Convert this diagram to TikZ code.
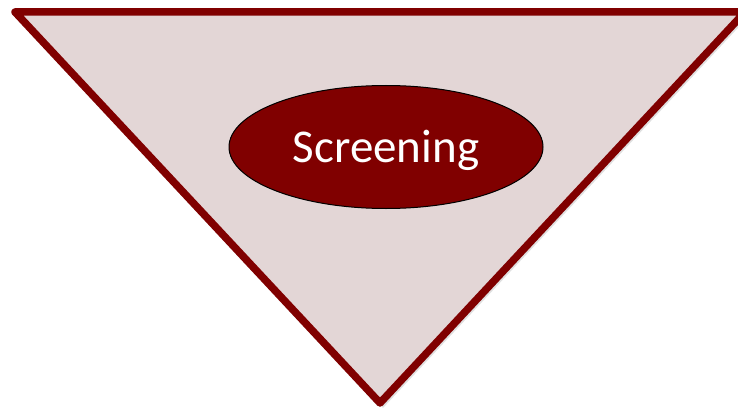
\documentclass[tikz,border=0pt]{standalone}
\usepackage{fontspec}
\setmainfont{Carlito}
\usetikzlibrary{shapes.geometric}
\definecolor{darkred}{RGB}{128,0,0}
\definecolor{palerose}{RGB}{227,214,214}
\tikzset{
  funnel/.style={fill=palerose, draw=darkred, line width=7.5pt, line join=round},
  funnelshadow/.style={fill=black, opacity=0.12, draw=none},
  stagebox/.style={ellipse, fill=darkred, draw=black, line width=1pt,
    minimum width=314pt, minimum height=123pt, inner sep=0pt,
    text=white, font=\fontsize{47}{50}\selectfont}
}
\begin{document}
\begin{tikzpicture}[x=1pt, y=-1pt]
  \useasboundingbox (0,0) rectangle (738,409);
  \clip (0,0) rectangle (738,409);
  \fill[funnelshadow] (18,16) -- (749,16) -- (383,408) -- cycle;
  \draw[funnel] (15,12) -- (745,12) -- (380,403) -- cycle;
  \node[stagebox] (screening) at (386,147) {\raisebox{-15pt}[0pt][0pt]{Screening}};
\end{tikzpicture}
\end{document}
